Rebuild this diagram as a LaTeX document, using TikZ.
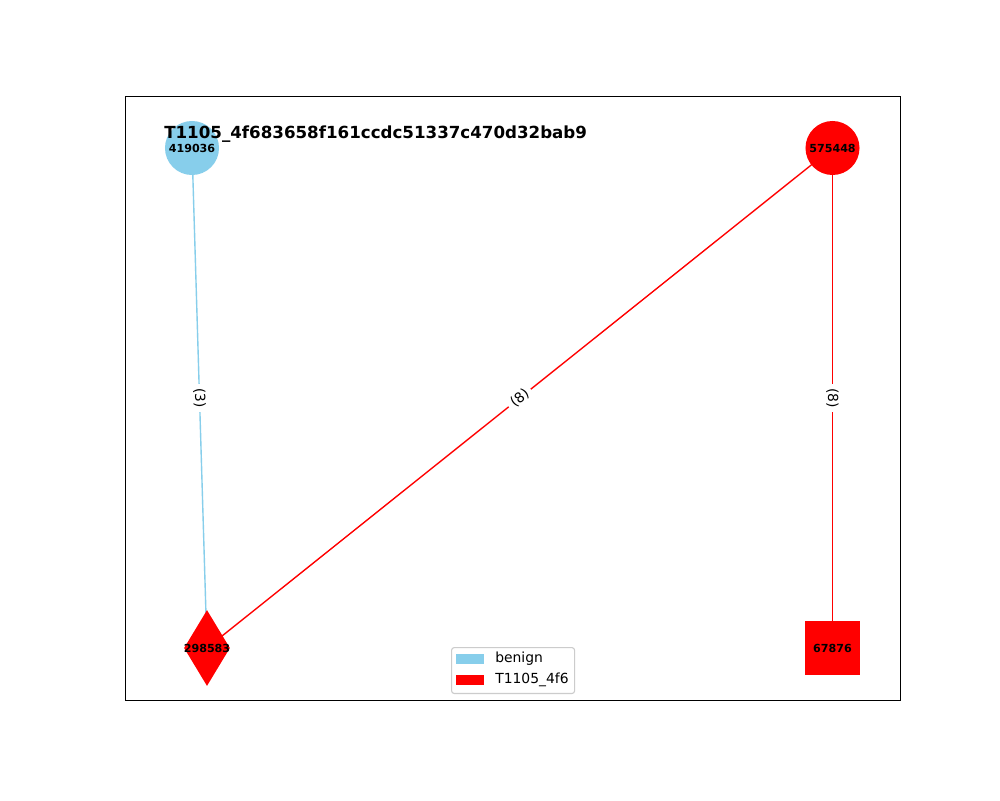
\documentclass[tikz,border=0pt]{standalone}
\usepackage{fontspec}
\setmainfont{DejaVu Sans}
\usetikzlibrary{shapes.geometric}
\pgfdeclarelayer{bg}
\pgfsetlayers{bg,main}
\definecolor{skyb}{HTML}{87CEEB}
\definecolor{pured}{HTML}{FF0000}
\definecolor{legedge}{HTML}{CCCCCC}
\begin{document}
\begin{tikzpicture}[x=0.72pt,y=-0.72pt,
  nlabel/.style={font=\fontsize{8}{9}\selectfont\bfseries},
  circnode/.style={circle,minimum size=38.9pt,inner sep=0pt,draw=none},
  sqnode/.style={rectangle,minimum size=38.9pt,inner sep=0pt,draw=none},
  dianode/.style={diamond,minimum width=33.1pt,minimum height=54.7pt,inner sep=0pt,draw=none},
  elabel/.style={fill=white,inner sep=3pt,font=\fontsize{10}{12}\selectfont,text=black},
  edge/.style={line width=1pt},
  legtext/.style={font=\fontsize{10}{12}\selectfont,anchor=west,inner sep=0pt}]
\useasboundingbox (0,0) rectangle (1000,800);
\begin{pgfonlayer}{bg}
\fill[white] (0,0) rectangle (1000,800);
\end{pgfonlayer}
% axes frame
\draw[line width=0.6pt] (125,96) rectangle (900,700);
% nodes
\node[circnode,fill=skyb,label={[nlabel]center:419036}] (n419) at (192,148) {};
\node[circnode,fill=pured,label={[nlabel]center:575448}] (n575) at (832.5,148) {};
\node[dianode,fill=pured,label={[nlabel]center:298583}] (n298) at (207,648) {};
\node[sqnode,fill=pured,label={[nlabel]center:67876}] (n678) at (832.5,648) {};
% edges
\begin{pgfonlayer}{bg}
\draw[edge,skyb] (n419.center) -- node[elabel,rotate=-88.3]{(3)} (n298.center);
\draw[edge,pured] (n575.center) -- node[elabel,rotate=38.7]{(8)} (n298.center);
\draw[edge,pured] (n575.center) -- node[elabel,rotate=-90]{(8)} (n678.center);
\end{pgfonlayer}
% title
\node[anchor=base west,inner sep=0pt,font=\fontsize{12}{14}\selectfont\bfseries] (title) at (164,138) {T1105\_4f683658f161ccdc51337c470d32bab9};
% legend
\node[draw=legedge,fill=white,rounded corners=2pt,line width=0.8pt,minimum width=88.6pt,minimum height=33.1pt,anchor=north west,inner sep=0pt] (legend) at (451,647) {};
\fill[skyb] (456,654) rectangle (484,664);
\fill[pured] (456,675) rectangle (484,685);
\node[legtext] (lb) at (495,659) {benign};
\node[legtext] (lt) at (495,680) {T1105\_4f6};
\end{tikzpicture}
\end{document}
